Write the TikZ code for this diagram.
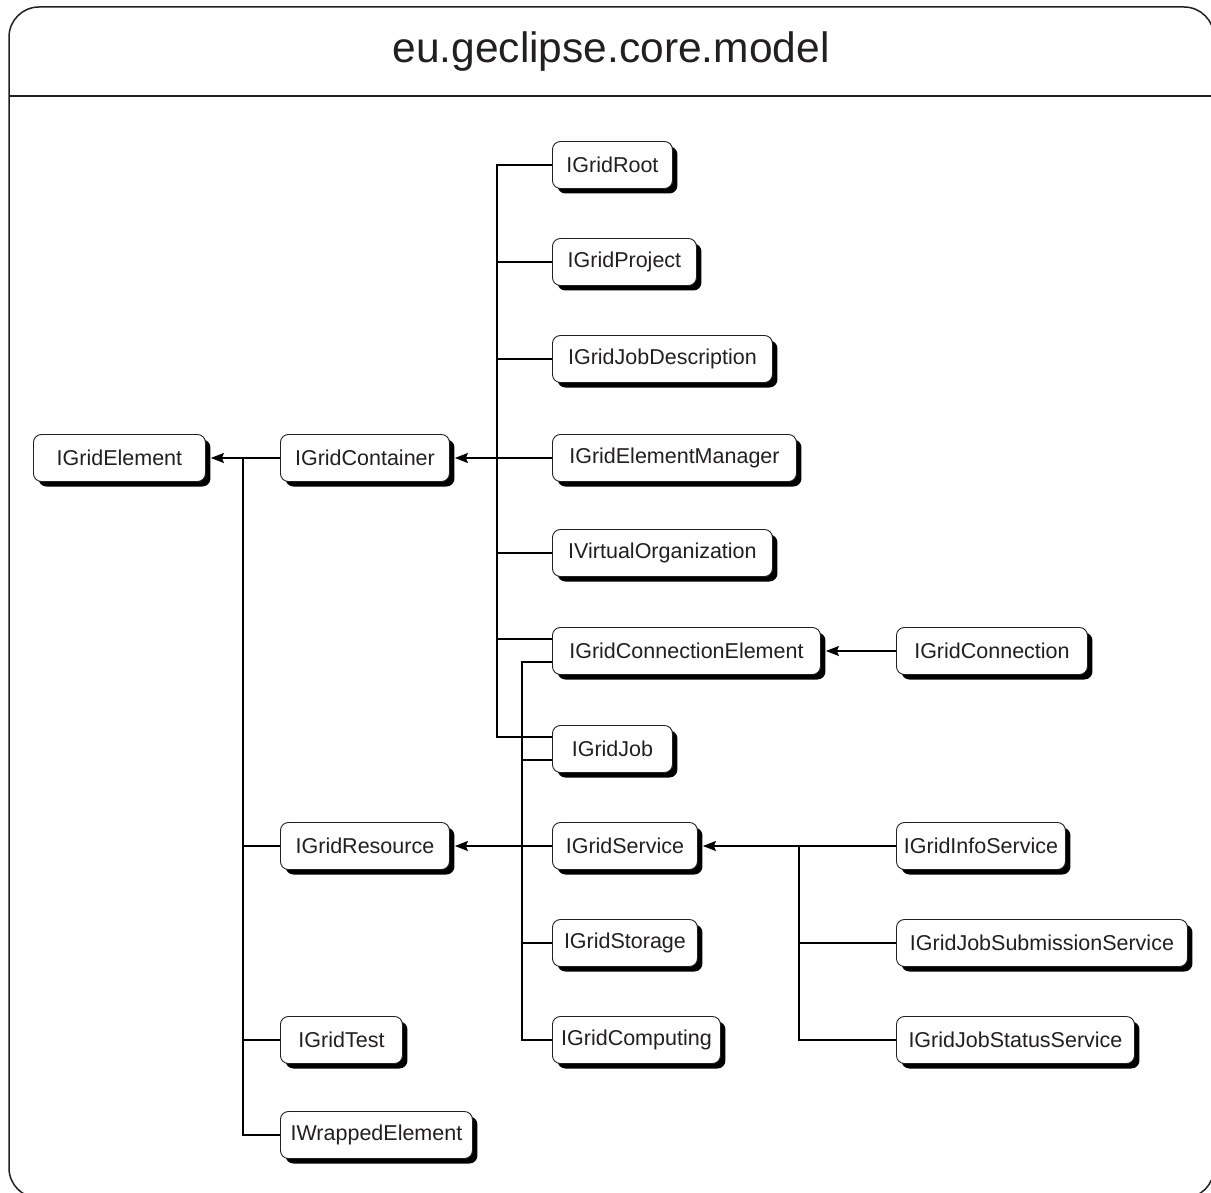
\documentclass[tikz,border=0pt]{standalone}
\usepackage{fontspec}
\setmainfont{Liberation Sans}
\usetikzlibrary{shadows,arrows.meta,calc}
\definecolor{ink}{HTML}{231F20}
\begin{document}
\begin{tikzpicture}[x=1pt,y=-1pt,
  cls/.style={draw=ink, line width=0.9pt, fill=white, rounded corners=8pt,
    minimum height=47pt, anchor=west, inner sep=0pt,
    font=\fontsize{21.5}{24}\selectfont, text=ink,
    drop shadow={shadow xshift=5pt, shadow yshift=-5pt, opacity=1, fill=black}},
  link/.style={draw=black, line width=1.3pt},
  inherit/.style={link, -{Stealth[length=13pt,width=10pt,inset=2pt]}}]

\useasboundingbox (0,0) rectangle (1211,1193);

% package frame with its title bar
\draw[ink, line width=1.5pt, rounded corners=30pt]
  (9,1198) -- (9,7) -- (1214,7) -- (1214,1198) -- cycle;
\draw[ink, line width=1.5pt] (9,96) -- (1214,96);
\node[font=\fontsize{42.5}{48}\selectfont, text=ink] (title) at (611,52) {eu.geclipse.core.model};

% interfaces
\node[cls, minimum width=172pt] (elem)   at (33,458)   {IGridElement};
\node[cls, minimum width=169pt] (cont)   at (280,458)  {IGridContainer};
\node[cls, minimum width=120pt] (root)   at (552,165)  {IGridRoot};
\node[cls, minimum width=144pt] (proj)   at (552,262)  {IGridProject};
\node[cls, minimum width=220pt] (jdesc)  at (552,359)  {IGridJobDescription};
\node[cls, minimum width=244pt] (emgr)   at (552,458)  {IGridElementManager};
\node[cls, minimum width=220pt] (vo)     at (552,553)  {IVirtualOrganization};
\node[cls, minimum width=268pt] (connel) at (552,651)  {IGridConnectionElement};
\node[cls, minimum width=191pt] (conn)   at (896,651)  {IGridConnection};
\node[cls, minimum width=120pt] (job)    at (552,749)  {IGridJob};
\node[cls, minimum width=169pt] (res)    at (280,846)  {IGridResource};
\node[cls, minimum width=145pt] (serv)   at (552,846)  {IGridService};
\node[cls, minimum width=169pt] (info)   at (896,846)  {IGridInfoService};
\node[cls, minimum width=145pt] (stor)   at (552,943)  {IGridStorage};
\node[cls, minimum width=291pt] (jsub)   at (896,943)  {IGridJobSubmissionService};
\node[cls, minimum width=168pt] (comp)   at (552,1040) {IGridComputing};
\node[cls, minimum width=238pt] (jstat)  at (896,1040) {IGridJobStatusService};
\node[cls, minimum width=122pt] (test)   at (280,1040) {IGridTest};
\node[cls, minimum width=192pt] (wrap)   at (280,1135) {IWrappedElement};

% trunk positions and split attachment points
\coordinate (teX) at (243,0);
\coordinate (tcX) at (497,0);
\coordinate (trX) at (522,0);
\coordinate (tsX) at (799,0);
\coordinate (ceUp)  at ($(connel.west)+(0,-12)$);
\coordinate (ceDn)  at ($(connel.west)+(0,11)$);
\coordinate (jobUp) at ($(job.west)+(0,-12)$);
\coordinate (jobDn) at ($(job.west)+(0,11)$);
% arrow tips rest on the shadow edge of the parent box
\coordinate (elemTip)   at ($(elem.east)+(5,0)$);
\coordinate (contTip)   at ($(cont.east)+(5,0)$);
\coordinate (resTip)    at ($(res.east)+(5,0)$);
\coordinate (servTip)   at ($(serv.east)+(5,0)$);
\coordinate (connelTip) at ($(connel.east)+(5,0)$);

% IGridElement hierarchy
\draw[link] (cont.west) -- (cont.west -| teX) -- (wrap.west -| teX) -- (wrap.west);
\foreach \n in {res,test} \draw[link] (\n.west) -- (\n.west -| teX);
\draw[inherit] (cont.west -| teX) -- (elemTip);

% IGridContainer hierarchy
\draw[link] (root.west) -- (root.west -| tcX) -- (jobUp -| tcX) -- (jobUp);
\foreach \n in {proj,jdesc,emgr,vo} \draw[link] (\n.west) -- (\n.west -| tcX);
\draw[link] (ceUp) -- (ceUp -| tcX);
\draw[inherit] (emgr.west -| tcX) -- (contTip);

% IGridResource hierarchy
\draw[link] (ceDn) -- (ceDn -| trX) -- (comp.west -| trX) -- (comp.west);
\draw[link] (jobDn) -- (jobDn -| trX);
\foreach \n in {serv,stor} \draw[link] (\n.west) -- (\n.west -| trX);
\draw[inherit] (serv.west -| trX) -- (resTip);

% IGridService hierarchy
\draw[link] (info.west) -- (info.west -| tsX) -- (jstat.west -| tsX) -- (jstat.west);
\draw[link] (jsub.west) -- (jsub.west -| tsX);
\draw[inherit] (info.west -| tsX) -- (servTip);

% IGridConnection
\draw[inherit] (conn.west) -- (connelTip);
\end{tikzpicture}
\end{document}
